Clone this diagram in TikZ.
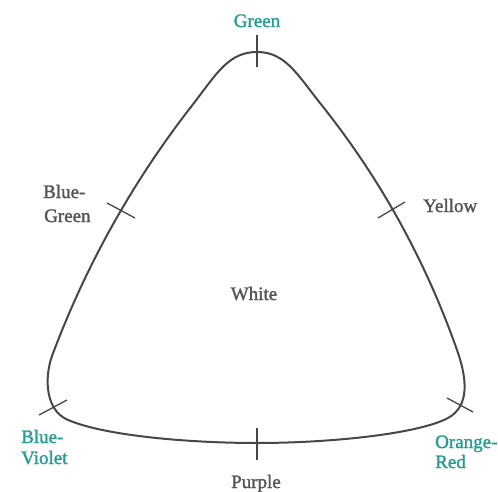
\documentclass[tikz,border=0pt]{standalone}
\usepackage{fontspec}
\setmainfont[FakeBold=1.6,BoldFont={Liberation Serif}]{Liberation Serif}
\begin{document}
\begin{tikzpicture}[x=1pt,y=-1pt,
  lbl/.style={inner sep=0pt,font=\fontsize{19}{22}\selectfont\bfseries},
  teal lbl/.style={lbl,text=tealc},
  gray lbl/.style={lbl,text=grayc},
  tick/.style={draw=edgec,line width=1.3pt}]
\definecolor{tealc}{RGB}{38,158,148}
\definecolor{grayc}{RGB}{85,85,82}
\definecolor{edgec}{RGB}{70,72,70}
\useasboundingbox[fill=white] (0,0) rectangle (498,492);
% curved triangle
\draw[edgec,line width=2pt]
 (257,52) .. controls (285,52) and (297,74) .. (320,103)
 .. controls (379.7,177.5) and (425.3,260) .. (457,350)
 .. controls (467,378) and (470,406) .. (448,418)
 .. controls (418,434) and (330,443) .. (257,443)
 .. controls (185,443) and (100,435) .. (66,419)
 .. controls (46,409) and (44,379) .. (52,356)
 .. controls (86.2,264.4) and (133.6,180) .. (194,103)
 .. controls (217,73) and (229,52) .. (257,52) -- cycle;
% tick marks
\coordinate (g1) at (257,35);  \coordinate (g2) at (257,67);
\coordinate (bg1) at (107,203); \coordinate (bg2) at (135,218);
\coordinate (y1) at (378,218); \coordinate (y2) at (405,202);
\coordinate (bv1) at (39,415); \coordinate (bv2) at (67,400);
\coordinate (or1) at (447,398); \coordinate (or2) at (473,412);
\coordinate (p1) at (257,428); \coordinate (p2) at (257,460);
\draw[tick] (g1) -- (g2);
\draw[tick] (bg1) -- (bg2);
\draw[tick] (y1) -- (y2);
\draw[tick] (bv1) -- (bv2);
\draw[tick] (or1) -- (or2);
\draw[tick] (p1) -- (p2);
% labels
\node[teal lbl,anchor=base] (green) at (257,27) {Green};
\node[gray lbl,anchor=base west] (bga) at (43,198) {Blue-};
\node[gray lbl,anchor=base west] (bgb) at (44,222) {Green};
\node[gray lbl,anchor=base west] (yel) at (423,212) {Yellow};
\node[gray lbl,anchor=base] (white) at (254,300) {White};
\node[teal lbl,anchor=base west] (bva) at (21,443) {Blue-};
\node[teal lbl,anchor=base west] (bvb) at (21,464) {Violet};
\node[teal lbl,anchor=base west] (ora) at (435,448) {Orange-};
\node[teal lbl,anchor=base west] (orb) at (435,468) {Red};
\node[gray lbl,anchor=base] (purple) at (256,488) {Purple};
\end{tikzpicture}
\end{document}
